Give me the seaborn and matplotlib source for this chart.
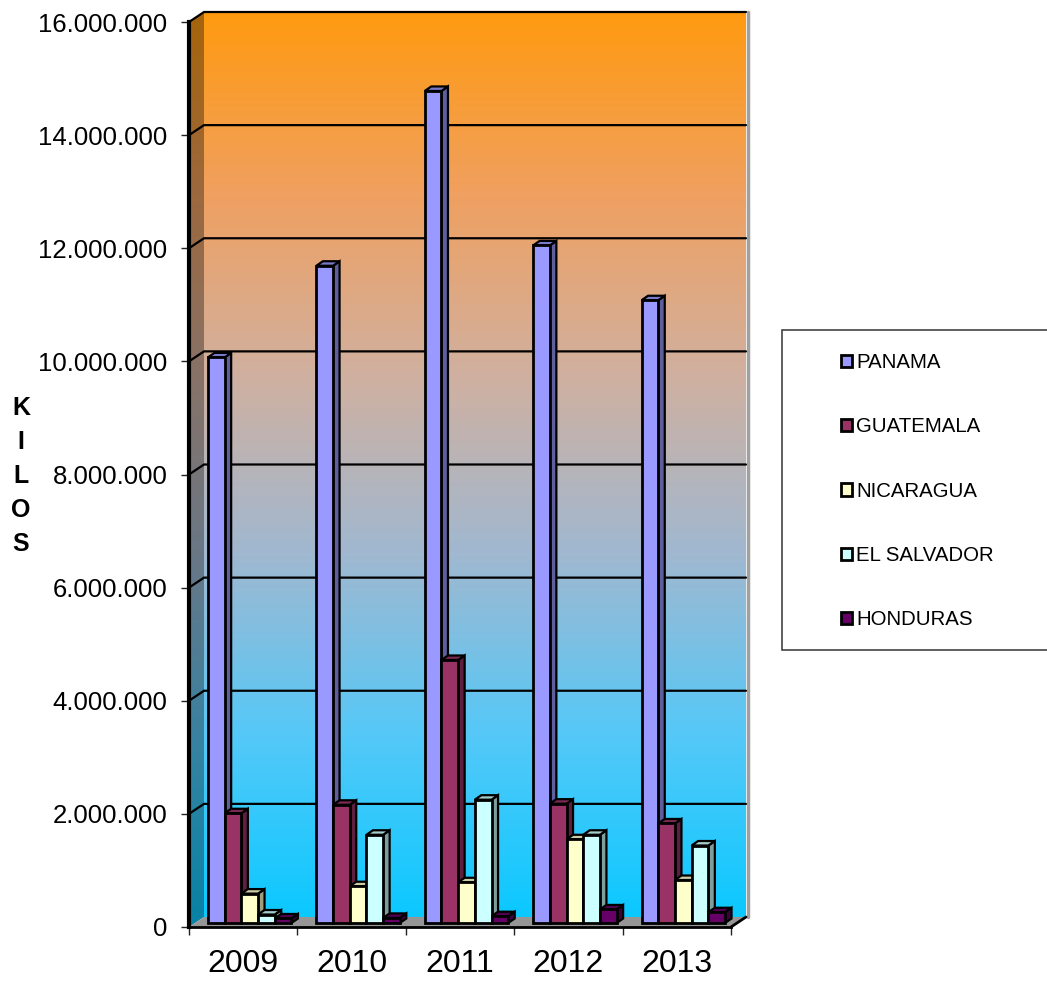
import numpy as np
import pandas as pd
import seaborn as sns
import matplotlib.pyplot as plt
from matplotlib.colors import LinearSegmentedColormap, to_rgb
from matplotlib.patches import Polygon, Rectangle

years = ['2009', '2010', '2011', '2012', '2013']
panama = [10000000, 11620000, 14710000, 11980000, 11010000]
guatemala = [1940000, 2090000, 4650000, 2110000, 1760000]
nicaragua = [520000, 650000, 720000, 1480000, 760000]
el_salvador = [150000, 1560000, 2180000, 1560000, 1370000]
honduras = [80000, 90000, 120000, 240000, 190000]
countries = ['PANAMA', 'GUATEMALA', 'NICARAGUA', 'EL SALVADOR', 'HONDURAS']
colors = ['#9999FF', '#993366', '#FFFFCC', '#CCFFFF', '#660066']
y_ticks = [0, 2000000, 4000000, 6000000, 8000000, 10000000, 12000000, 14000000, 16000000]
y_labels = ['0', '2.000.000', '4.000.000', '6.000.000', '8.000.000',
            '10.000.000', '12.000.000', '14.000.000', '16.000.000']
wall_colors = ['#0BC8FF', '#55C8F8', '#A0B8D0', '#D0B0A0', '#F0A060', '#FF9A10']

W, H = 1047, 983
L, R, T, B = 189, 731, 22, 927

sns.set_theme(style='white')
plt.rcParams['font.family'] = ['Liberation Sans', 'DejaVu Sans']

fig = plt.figure(figsize=(W / 100, H / 100), dpi=100)
ax = fig.add_axes([L / W, 1 - B / H, (R - L) / W, (B - T) / H])

df = pd.DataFrame({'year': years * 5,
                   'kilos': panama + guatemala + nicaragua + el_salvador + honduras,
                   'country': np.repeat(countries, 5)})
sns.barplot(data=df, x='year', y='kilos', hue='country', hue_order=countries,
            palette=colors, width=0.77, saturation=1, legend=False,
            edgecolor='black', linewidth=2, ax=ax)

xlim = (-0.5, 4.5)
ylim = (0, 16000000)
px = (xlim[1] - xlim[0]) / (R - L)  # data units per pixel
py = (ylim[1] - ylim[0]) / (B - T)


def darker(c, f=0.62):
    return tuple(v * f for v in to_rgb(c))


# back wall with the colour gradient, pushed back in depth
wall_dx, wall_dy = 15 * px, 10 * py
cmap = LinearSegmentedColormap.from_list('wall', wall_colors)
grad = np.linspace(1, 0, 256).reshape(-1, 1)
ax.imshow(grad, cmap=cmap, aspect='auto', zorder=0, clip_on=False,
          extent=(xlim[0] + wall_dx, xlim[1] + wall_dx, ylim[0] + wall_dy, ylim[1] + wall_dy))

# left wall, same gradient but darker
left_cmap = LinearSegmentedColormap.from_list('left', [darker(c, 0.65) for c in wall_colors])
left_poly = Polygon([(xlim[0], 0), (xlim[0] + wall_dx, wall_dy),
                     (xlim[0] + wall_dx, ylim[1] + wall_dy), (xlim[0], ylim[1])],
                    closed=True, facecolor='none', edgecolor='none', transform=ax.transData)
ax.add_patch(left_poly)
left_im = ax.imshow(grad, cmap=left_cmap, aspect='auto', zorder=0.5,
                    extent=(xlim[0], xlim[0] + wall_dx, ylim[0], ylim[1] + wall_dy))
left_im.set_clip_path(left_poly)
left_im.set_clip_box(fig.bbox)

# floor
ax.add_patch(Polygon([(xlim[0], 0), (xlim[1], 0), (xlim[1] + wall_dx, wall_dy),
                      (xlim[0] + wall_dx, wall_dy)],
                     closed=True, facecolor='#969696', edgecolor='none', zorder=1, clip_on=False))
# grey edge on the right of the wall
ax.plot([xlim[1] + wall_dx + 1.5 * px] * 2, [wall_dy, ylim[1] + wall_dy], color='#A0A0A0',
        lw=2.5, zorder=1, clip_on=False)

# gridlines on both walls
for v in y_ticks[1:]:
    ax.plot([xlim[0], xlim[0] + wall_dx, xlim[1] + wall_dx], [v, v + wall_dy, v + wall_dy],
            color='black', lw=1.6, zorder=1.5, clip_on=False, solid_joinstyle='miter')

# bars: move the seaborn faces to mid depth and add top and side faces
bar_dx, bar_dy = 6.5 * px, 4 * py
depth_dx, depth_dy = 6.5 * px, 4.5 * py
rects = [p for p in ax.patches if isinstance(p, Rectangle)]
rects = sorted(rects, key=lambda p: p.get_x())
for i, bar in enumerate(rects):
    bar.set_x(bar.get_x() + bar_dx)
    bar.set_y(bar_dy)
    x0, x1 = bar.get_x(), bar.get_x() + bar.get_width()
    y0, y1 = bar.get_y(), bar.get_y() + bar.get_height()
    c = bar.get_facecolor()
    z = 3 + i * 0.01
    bar.set_zorder(z + 0.005)
    bar.set_clip_on(False)
    ax.add_patch(Polygon([(x1, y0), (x1 + depth_dx, y0 + depth_dy),
                          (x1 + depth_dx, y1 + depth_dy), (x1, y1)], closed=True,
                         facecolor=darker(c), edgecolor='black', lw=1.6, zorder=z, clip_on=False))
    ax.add_patch(Polygon([(x0, y1), (x1, y1), (x1 + depth_dx, y1 + depth_dy),
                          (x0 + depth_dx, y1 + depth_dy)], closed=True,
                         facecolor=darker(c, 0.8), edgecolor='black', lw=1.6, zorder=z, clip_on=False))

ax.set_xlim(xlim)
ax.set_ylim(ylim)

# axes lines, ticks, labels
for s in ['top', 'right']:
    ax.spines[s].set_visible(False)
ax.spines['left'].set_linewidth(3)
ax.spines['left'].set_color('black')
ax.spines['bottom'].set_linewidth(2)
ax.spines['bottom'].set_color('black')
ax.spines['left'].set_zorder(6)
ax.spines['bottom'].set_zorder(2)
ax.plot([xlim[1], xlim[1] + wall_dx], [0, wall_dy], color='black', lw=2, zorder=2, clip_on=False)

ax.set_yticks(y_ticks, labels=y_labels)
ax.set_xticks(np.arange(-0.5, 5, 1), labels=[''] * 6)
ax.set_xticks(np.arange(5), labels=years, minor=True)
ax.tick_params(axis='y', which='major', left=True, length=5.5, width=1, color='#222222',
               labelsize=18.5, pad=10, labelcolor='black')
ax.tick_params(axis='x', which='major', bottom=True, length=5.5, width=1, color='#222222')
ax.tick_params(axis='x', which='minor', bottom=False, labelsize=23, pad=12, labelcolor='black')
ax.set_xlabel('')
ax.set_ylabel('')
ax.grid(False)

# vertical axis title
for ch, yp in zip('KILOS', [408, 442, 476, 510, 544]):
    fig.text(21 / W, 1 - yp / H, ch, fontsize=18, fontweight='bold', ha='center', va='center',
             color='black')

# legend box runs off the right edge
fig.add_artist(Rectangle((782 / W, 1 - 650 / H), 300 / W, 320 / H, transform=fig.transFigure,
                         facecolor='white', edgecolor='#333333', lw=1.1))
handles = [Rectangle((0, 0), 1, 1, facecolor=c, edgecolor='black', lw=2) for c in colors]
leg = fig.legend(handles, countries, loc='upper left', bbox_to_anchor=(841 / W, 1 - 353 / H),
                 bbox_transform=fig.transFigure, frameon=False, fontsize=14.7, borderpad=0,
                 borderaxespad=0, labelspacing=2.22, handlelength=0.55, handleheight=0.55,
                 handletextpad=0.2)
for t in leg.get_texts():
    t.set_color('black')

plt.savefig('out.png', dpi=100)
